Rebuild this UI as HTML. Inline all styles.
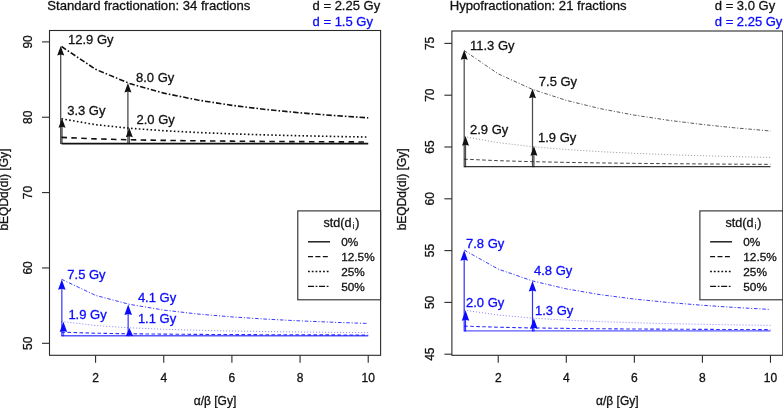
<!DOCTYPE html>
<html><head><meta charset="utf-8"><title>bEQD</title>
<style>
html,body{margin:0;padding:0;background:#fff;}
body{width:783px;height:408px;overflow:hidden;font-family:"Liberation Sans", sans-serif;}
svg{display:block;font-family:"Liberation Sans", sans-serif;will-change:transform;}
text{stroke-width:0.3px;paint-order:stroke fill;}
</style></head><body>
<svg width="783" height="408" viewBox="0 0 783 408">
<rect width="783" height="408" fill="#fff"/>
<g id="left">
<rect x="49.5" y="30.5" width="331.10" height="324.80" fill="none" stroke="#2a2a2a" stroke-width="1.1"/>
<line x1="95.58" y1="355.3" x2="95.58" y2="362.8" stroke="#2a2a2a" stroke-width="1.1"/>
<text x="95.58" y="381.8" font-size="12" text-anchor="middle" fill="#111111" stroke="#111111">2</text>
<line x1="163.74" y1="355.3" x2="163.74" y2="362.8" stroke="#2a2a2a" stroke-width="1.1"/>
<text x="163.74" y="381.8" font-size="12" text-anchor="middle" fill="#111111" stroke="#111111">4</text>
<line x1="231.90" y1="355.3" x2="231.90" y2="362.8" stroke="#2a2a2a" stroke-width="1.1"/>
<text x="231.90" y="381.8" font-size="12" text-anchor="middle" fill="#111111" stroke="#111111">6</text>
<line x1="300.06" y1="355.3" x2="300.06" y2="362.8" stroke="#2a2a2a" stroke-width="1.1"/>
<text x="300.06" y="381.8" font-size="12" text-anchor="middle" fill="#111111" stroke="#111111">8</text>
<line x1="368.22" y1="355.3" x2="368.22" y2="362.8" stroke="#2a2a2a" stroke-width="1.1"/>
<text x="368.22" y="381.8" font-size="12" text-anchor="middle" fill="#111111" stroke="#111111">10</text>
<line x1="42.0" y1="343.30" x2="49.5" y2="343.30" stroke="#2a2a2a" stroke-width="1.1"/>
<text transform="translate(31.70,343.30) rotate(-90)" font-size="12" text-anchor="middle" fill="#111111" stroke="#111111">50</text>
<line x1="42.0" y1="267.95" x2="49.5" y2="267.95" stroke="#2a2a2a" stroke-width="1.1"/>
<text transform="translate(31.70,267.95) rotate(-90)" font-size="12" text-anchor="middle" fill="#111111" stroke="#111111">60</text>
<line x1="42.0" y1="192.60" x2="49.5" y2="192.60" stroke="#2a2a2a" stroke-width="1.1"/>
<text transform="translate(31.70,192.60) rotate(-90)" font-size="12" text-anchor="middle" fill="#111111" stroke="#111111">70</text>
<line x1="42.0" y1="117.25" x2="49.5" y2="117.25" stroke="#2a2a2a" stroke-width="1.1"/>
<text transform="translate(31.70,117.25) rotate(-90)" font-size="12" text-anchor="middle" fill="#111111" stroke="#111111">80</text>
<line x1="42.0" y1="41.90" x2="49.5" y2="41.90" stroke="#2a2a2a" stroke-width="1.1"/>
<text transform="translate(31.70,41.90) rotate(-90)" font-size="12" text-anchor="middle" fill="#111111" stroke="#111111">90</text>
<text x="215.05" y="404.7" font-size="12" text-anchor="middle" fill="#111111" stroke="#111111">α/β [Gy]</text>
<text transform="translate(7.70,189.60) rotate(-90)" font-size="12" text-anchor="middle" fill="#111111" stroke="#111111">bEQDd(di) [Gy]</text>
<text x="47.30" y="9.8" font-size="13.1" fill="#111111" stroke="#111111">Standard fractionation: 34 fractions</text>
<text x="312.60" y="9.6" font-size="13" fill="#111111" stroke="#111111">d = 2.25 Gy</text>
<text x="312.60" y="25.6" font-size="13" fill="#0a0aff" stroke="#0a0aff">d = 1.5 Gy</text>
<polyline points="61.50,143.62 95.58,143.62 129.66,143.62 163.74,143.62 197.82,143.62 231.90,143.62 265.98,143.62 300.06,143.62 334.14,143.62 368.22,143.62" fill="none" stroke="#111111" stroke-width="1.6" stroke-opacity="1"/>
<polyline points="61.50,137.41 95.58,138.87 129.66,139.78 163.74,140.39 197.82,140.84 231.90,141.17 265.98,141.44 300.06,141.65 334.14,141.83 368.22,141.97" fill="none" stroke="#111111" stroke-width="1.6" stroke-opacity="1" stroke-dasharray="5.5 4.4"/>
<polyline points="61.50,118.81 95.58,124.65 129.66,128.27 163.74,130.72 197.82,132.50 231.90,133.85 265.98,134.91 300.06,135.76 334.14,136.46 368.22,137.04" fill="none" stroke="#111111" stroke-width="1.6" stroke-opacity="1" stroke-dasharray="1.6 2.3"/>
<polyline points="61.50,46.48 95.58,69.34 129.66,83.49 163.74,93.11 197.82,100.08 231.90,105.35 265.98,109.49 300.06,112.82 334.14,115.56 368.22,117.85" fill="none" stroke="#111111" stroke-width="1.6" stroke-opacity="1" stroke-dasharray="5.5 2 1.6 2"/>
<line x1="60.70" y1="144.12" x2="60.70" y2="50.48" stroke="#111111" stroke-width="1.25" stroke-opacity="0.78"/>
<polygon points="60.70,45.88 57.20,55.48 60.70,54.48 64.20,55.48" fill="#111111"/>
<line x1="62.00" y1="144.12" x2="62.00" y2="122.81" stroke="#111111" stroke-width="1.25" stroke-opacity="0.78"/>
<polygon points="62.00,118.21 58.50,127.81 62.00,126.81 65.50,127.81" fill="#111111"/>
<line x1="127.90" y1="144.12" x2="127.90" y2="87.49" stroke="#111111" stroke-width="1.25" stroke-opacity="0.78"/>
<polygon points="127.90,82.89 124.40,92.49 127.90,91.49 131.40,92.49" fill="#111111"/>
<line x1="129.30" y1="144.12" x2="129.30" y2="132.27" stroke="#111111" stroke-width="1.25" stroke-opacity="0.78"/>
<polygon points="129.30,127.67 125.80,137.27 129.30,136.27 132.80,137.27" fill="#111111"/>
<text x="68" y="43.5" font-size="13" fill="#111111" stroke="#111111">12.9 Gy</text>
<text x="136" y="81.5" font-size="13" fill="#111111" stroke="#111111">8.0 Gy</text>
<text x="67.2" y="114.5" font-size="13" fill="#111111" stroke="#111111">3.3 Gy</text>
<text x="136.5" y="123.5" font-size="13" fill="#111111" stroke="#111111">2.0 Gy</text>
<polyline points="61.50,335.76 95.58,335.76 129.66,335.76 163.74,335.76 197.82,335.76 231.90,335.76 265.98,335.76 300.06,335.76 334.14,335.76 368.22,335.76" fill="none" stroke="#0a0aff" stroke-width="1.4" stroke-opacity="0.68"/>
<polyline points="61.50,332.18 95.58,333.20 129.66,333.77 163.74,334.13 197.82,334.39 231.90,334.57 265.98,334.71 300.06,334.82 334.14,334.91 368.22,334.99" fill="none" stroke="#0a0aff" stroke-width="1.1" stroke-opacity="0.85" stroke-dasharray="3.6 2.4"/>
<polyline points="61.50,321.45 95.58,325.54 129.66,327.81 163.74,329.26 197.82,330.26 231.90,330.99 265.98,331.55 300.06,332.00 334.14,332.36 368.22,332.65" fill="none" stroke="#0a0aff" stroke-width="1.0" stroke-opacity="0.5" stroke-dasharray="1 2"/>
<polyline points="61.50,279.25 95.58,295.40 129.66,304.37 163.74,310.08 197.82,314.03 231.90,316.93 265.98,319.14 300.06,320.89 334.14,322.31 368.22,323.48" fill="none" stroke="#0a0aff" stroke-width="1.0" stroke-opacity="0.8" stroke-dasharray="3.6 1.8 1.1 1.8"/>
<line x1="61.80" y1="336.26" x2="61.80" y2="283.25" stroke="#0a0aff" stroke-width="1.6" stroke-opacity="0.62"/>
<polygon points="61.80,279.45 58.05,289.85 61.80,288.85 65.55,289.85" fill="#0a0aff"/>
<line x1="63.40" y1="336.26" x2="63.40" y2="325.45" stroke="#0a0aff" stroke-width="1.6" stroke-opacity="0.62"/>
<polygon points="63.40,321.65 59.65,332.05 63.40,331.05 67.15,332.05" fill="#0a0aff"/>
<line x1="128.20" y1="336.26" x2="128.20" y2="308.37" stroke="#0a0aff" stroke-width="1.6" stroke-opacity="0.62"/>
<polygon points="128.20,304.57 124.45,314.97 128.20,313.97 131.95,314.97" fill="#0a0aff"/>
<line x1="129.40" y1="336.26" x2="129.40" y2="331.81" stroke="#0a0aff" stroke-width="1.6" stroke-opacity="0.62"/>
<polygon points="129.40,328.01 125.65,336.37 129.40,335.37 133.15,336.37" fill="#0a0aff"/>
<text x="67.3" y="279" font-size="13" fill="#0a0aff" stroke="#0a0aff">7.5 Gy</text>
<text x="137.9" y="302" font-size="13" fill="#0a0aff" stroke="#0a0aff">4.1 Gy</text>
<text x="68.4" y="319" font-size="13" fill="#0a0aff" stroke="#0a0aff">1.9 Gy</text>
<text x="137.9" y="323" font-size="13" fill="#0a0aff" stroke="#0a0aff">1.1 Gy</text>
<rect x="297.8" y="210.9" width="82.80" height="88.9" fill="#fff" stroke="#2a2a2a" stroke-width="1.1"/>
<text x="323.40" y="226.6" font-size="12.6" fill="#111111" stroke="#111111">std(d<tspan font-size="8.3" dy="2.5" dx="1.1" stroke-width="0.15">i</tspan><tspan dy="-2.5" dx="0.9">)</tspan></text>
<line x1="308.00" y1="241.80" x2="330.00" y2="241.80" stroke="#111111" stroke-width="1.4"/>
<text x="341.20" y="246.00" font-size="11.8" fill="#111111" stroke="#111111">0%</text>
<line x1="308.00" y1="256.65" x2="330.00" y2="256.65" stroke="#111111" stroke-width="1.4" stroke-dasharray="5 2.4"/>
<text x="341.20" y="260.85" font-size="11.8" fill="#111111" stroke="#111111">12.5%</text>
<line x1="308.00" y1="271.50" x2="330.00" y2="271.50" stroke="#111111" stroke-width="1.4" stroke-dasharray="1.8 1.95"/>
<text x="341.20" y="275.70" font-size="11.8" fill="#111111" stroke="#111111">25%</text>
<line x1="308.00" y1="286.35" x2="330.00" y2="286.35" stroke="#111111" stroke-width="1.4" stroke-dasharray="6 1.65 1.75 1.65"/>
<text x="341.20" y="290.55" font-size="11.8" fill="#111111" stroke="#111111">50%</text>
</g>
<g id="right">
<rect x="451.9" y="31.0" width="330.90" height="324.30" fill="none" stroke="#2a2a2a" stroke-width="1.1"/>
<line x1="498.23" y1="355.3" x2="498.23" y2="362.8" stroke="#2a2a2a" stroke-width="1.1"/>
<text x="498.23" y="381.8" font-size="12" text-anchor="middle" fill="#111111" stroke="#111111">2</text>
<line x1="566.29" y1="355.3" x2="566.29" y2="362.8" stroke="#2a2a2a" stroke-width="1.1"/>
<text x="566.29" y="381.8" font-size="12" text-anchor="middle" fill="#111111" stroke="#111111">4</text>
<line x1="634.35" y1="355.3" x2="634.35" y2="362.8" stroke="#2a2a2a" stroke-width="1.1"/>
<text x="634.35" y="381.8" font-size="12" text-anchor="middle" fill="#111111" stroke="#111111">6</text>
<line x1="702.41" y1="355.3" x2="702.41" y2="362.8" stroke="#2a2a2a" stroke-width="1.1"/>
<text x="702.41" y="381.8" font-size="12" text-anchor="middle" fill="#111111" stroke="#111111">8</text>
<line x1="770.47" y1="355.3" x2="770.47" y2="362.8" stroke="#2a2a2a" stroke-width="1.1"/>
<text x="770.47" y="381.8" font-size="12" text-anchor="middle" fill="#111111" stroke="#111111">10</text>
<line x1="444.4" y1="354.20" x2="451.9" y2="354.20" stroke="#2a2a2a" stroke-width="1.1"/>
<text transform="translate(434.10,354.20) rotate(-90)" font-size="12" text-anchor="middle" fill="#111111" stroke="#111111">45</text>
<line x1="444.4" y1="302.40" x2="451.9" y2="302.40" stroke="#2a2a2a" stroke-width="1.1"/>
<text transform="translate(434.10,302.40) rotate(-90)" font-size="12" text-anchor="middle" fill="#111111" stroke="#111111">50</text>
<line x1="444.4" y1="250.60" x2="451.9" y2="250.60" stroke="#2a2a2a" stroke-width="1.1"/>
<text transform="translate(434.10,250.60) rotate(-90)" font-size="12" text-anchor="middle" fill="#111111" stroke="#111111">55</text>
<line x1="444.4" y1="198.80" x2="451.9" y2="198.80" stroke="#2a2a2a" stroke-width="1.1"/>
<text transform="translate(434.10,198.80) rotate(-90)" font-size="12" text-anchor="middle" fill="#111111" stroke="#111111">60</text>
<line x1="444.4" y1="147.00" x2="451.9" y2="147.00" stroke="#2a2a2a" stroke-width="1.1"/>
<text transform="translate(434.10,147.00) rotate(-90)" font-size="12" text-anchor="middle" fill="#111111" stroke="#111111">65</text>
<line x1="444.4" y1="95.20" x2="451.9" y2="95.20" stroke="#2a2a2a" stroke-width="1.1"/>
<text transform="translate(434.10,95.20) rotate(-90)" font-size="12" text-anchor="middle" fill="#111111" stroke="#111111">70</text>
<line x1="444.4" y1="43.40" x2="451.9" y2="43.40" stroke="#2a2a2a" stroke-width="1.1"/>
<text transform="translate(434.10,43.40) rotate(-90)" font-size="12" text-anchor="middle" fill="#111111" stroke="#111111">75</text>
<text x="617.35" y="404.7" font-size="12" text-anchor="middle" fill="#111111" stroke="#111111">α/β [Gy]</text>
<text transform="translate(405.60,189.30) rotate(-90)" font-size="12" text-anchor="middle" fill="#111111" stroke="#111111">bEQDd(di) [Gy]</text>
<text x="449.70" y="9.8" font-size="13.1" fill="#111111" stroke="#111111">Hypofractionation: 21 fractions</text>
<text x="714.80" y="9.6" font-size="13" fill="#111111" stroke="#111111">d = 3.0 Gy</text>
<text x="714.80" y="25.6" font-size="13" fill="#0a0aff" stroke="#0a0aff">d = 2.25 Gy</text>
<polyline points="464.20,166.68 498.23,166.68 532.26,166.68 566.29,166.68 600.32,166.68 634.35,166.68 668.38,166.68 702.41,166.68 736.44,166.68 770.47,166.68" fill="none" stroke="#111111" stroke-width="1.2" stroke-opacity="0.85"/>
<polyline points="464.20,159.17 498.23,160.68 532.26,161.68 566.29,162.39 600.32,162.93 634.35,163.35 668.38,163.68 702.41,163.95 736.44,164.18 770.47,164.37" fill="none" stroke="#111111" stroke-width="1.0" stroke-opacity="0.8" stroke-dasharray="3.6 2.4"/>
<polyline points="464.20,136.64 498.23,142.65 532.26,146.65 566.29,149.52 600.32,151.66 634.35,153.33 668.38,154.67 702.41,155.76 736.44,156.67 770.47,157.44" fill="none" stroke="#111111" stroke-width="1.0" stroke-opacity="0.45" stroke-dasharray="1 2"/>
<polyline points="464.20,50.65 498.23,73.86 532.26,89.33 566.29,100.38 600.32,108.67 634.35,115.11 668.38,120.27 702.41,124.49 736.44,128.01 770.47,130.98" fill="none" stroke="#111111" stroke-width="1.0" stroke-opacity="0.7" stroke-dasharray="3.6 1.8 1.1 1.8"/>
<line x1="464.20" y1="167.18" x2="464.20" y2="54.65" stroke="#111111" stroke-width="1.25" stroke-opacity="0.75"/>
<polygon points="464.20,50.05 460.70,59.65 464.20,58.65 467.70,59.65" fill="#111111"/>
<line x1="465.50" y1="167.18" x2="465.50" y2="140.64" stroke="#111111" stroke-width="1.25" stroke-opacity="0.75"/>
<polygon points="465.50,136.04 462.00,145.64 465.50,144.64 469.00,145.64" fill="#111111"/>
<line x1="532.50" y1="167.18" x2="532.50" y2="93.33" stroke="#111111" stroke-width="1.25" stroke-opacity="0.75"/>
<polygon points="532.50,88.73 529.00,98.33 532.50,97.33 536.00,98.33" fill="#111111"/>
<line x1="533.90" y1="167.18" x2="533.90" y2="150.65" stroke="#111111" stroke-width="1.25" stroke-opacity="0.75"/>
<polygon points="533.90,146.05 530.40,155.65 533.90,154.65 537.40,155.65" fill="#111111"/>
<text x="470" y="50" font-size="13" fill="#111111" stroke="#111111">11.3 Gy</text>
<text x="538.8" y="86" font-size="13" fill="#111111" stroke="#111111">7.5 Gy</text>
<text x="470" y="134" font-size="13" fill="#111111" stroke="#111111">2.9 Gy</text>
<text x="538" y="142" font-size="13" fill="#111111" stroke="#111111">1.9 Gy</text>
<polyline points="464.20,330.89 498.23,330.89 532.26,330.89 566.29,330.89 600.32,330.89 634.35,330.89 668.38,330.89 702.41,330.89 736.44,330.89 770.47,330.89" fill="none" stroke="#0a0aff" stroke-width="1.4" stroke-opacity="0.68"/>
<polyline points="464.20,326.11 498.23,327.23 532.26,327.93 566.29,328.40 600.32,328.75 634.35,329.01 668.38,329.21 702.41,329.37 736.44,329.51 770.47,329.62" fill="none" stroke="#0a0aff" stroke-width="1.1" stroke-opacity="0.85" stroke-dasharray="3.6 2.4"/>
<polyline points="464.20,310.17 498.23,315.05 532.26,318.06 566.29,320.12 600.32,321.60 634.35,322.73 668.38,323.61 702.41,324.32 736.44,324.90 770.47,325.39" fill="none" stroke="#0a0aff" stroke-width="1.0" stroke-opacity="0.5" stroke-dasharray="1 2"/>
<polyline points="464.20,250.08 498.23,269.10 532.26,280.87 566.29,288.87 600.32,294.67 634.35,299.06 668.38,302.50 702.41,305.27 736.44,307.55 770.47,309.45" fill="none" stroke="#0a0aff" stroke-width="1.0" stroke-opacity="0.8" stroke-dasharray="3.6 1.8 1.1 1.8"/>
<line x1="464.20" y1="331.39" x2="464.20" y2="254.08" stroke="#0a0aff" stroke-width="1.2" stroke-opacity="0.85"/>
<polygon points="464.20,250.28 460.45,260.68 464.20,259.68 467.95,260.68" fill="#0a0aff"/>
<line x1="465.50" y1="331.39" x2="465.50" y2="314.17" stroke="#0a0aff" stroke-width="1.2" stroke-opacity="0.85"/>
<polygon points="465.50,310.37 461.75,320.77 465.50,319.77 469.25,320.77" fill="#0a0aff"/>
<line x1="532.50" y1="331.39" x2="532.50" y2="284.87" stroke="#0a0aff" stroke-width="1.2" stroke-opacity="0.85"/>
<polygon points="532.50,281.07 528.75,291.47 532.50,290.47 536.25,291.47" fill="#0a0aff"/>
<line x1="533.90" y1="331.39" x2="533.90" y2="322.06" stroke="#0a0aff" stroke-width="1.2" stroke-opacity="0.85"/>
<polygon points="533.90,318.26 530.15,328.66 533.90,327.66 537.65,328.66" fill="#0a0aff"/>
<text x="466" y="248" font-size="13" fill="#0a0aff" stroke="#0a0aff">7.8 Gy</text>
<text x="534" y="274.6" font-size="13" fill="#0a0aff" stroke="#0a0aff">4.8 Gy</text>
<text x="466" y="307" font-size="13" fill="#0a0aff" stroke="#0a0aff">2.0 Gy</text>
<text x="535" y="315" font-size="13" fill="#0a0aff" stroke="#0a0aff">1.3 Gy</text>
<rect x="699.9" y="210.9" width="82.90" height="88.9" fill="#fff" stroke="#2a2a2a" stroke-width="1.1"/>
<text x="725.50" y="226.6" font-size="12.6" fill="#111111" stroke="#111111">std(d<tspan font-size="8.3" dy="2.5" dx="1.1" stroke-width="0.15">i</tspan><tspan dy="-2.5" dx="0.9">)</tspan></text>
<line x1="710.10" y1="241.80" x2="732.10" y2="241.80" stroke="#111111" stroke-width="1.4"/>
<text x="743.30" y="246.00" font-size="11.8" fill="#111111" stroke="#111111">0%</text>
<line x1="710.10" y1="256.65" x2="732.10" y2="256.65" stroke="#111111" stroke-width="1.4" stroke-dasharray="5 2.4"/>
<text x="743.30" y="260.85" font-size="11.8" fill="#111111" stroke="#111111">12.5%</text>
<line x1="710.10" y1="271.50" x2="732.10" y2="271.50" stroke="#111111" stroke-width="1.4" stroke-dasharray="1.8 1.95"/>
<text x="743.30" y="275.70" font-size="11.8" fill="#111111" stroke="#111111">25%</text>
<line x1="710.10" y1="286.35" x2="732.10" y2="286.35" stroke="#111111" stroke-width="1.4" stroke-dasharray="6 1.65 1.75 1.65"/>
<text x="743.30" y="290.55" font-size="11.8" fill="#111111" stroke="#111111">50%</text>
</g>
</svg>
</body></html>
